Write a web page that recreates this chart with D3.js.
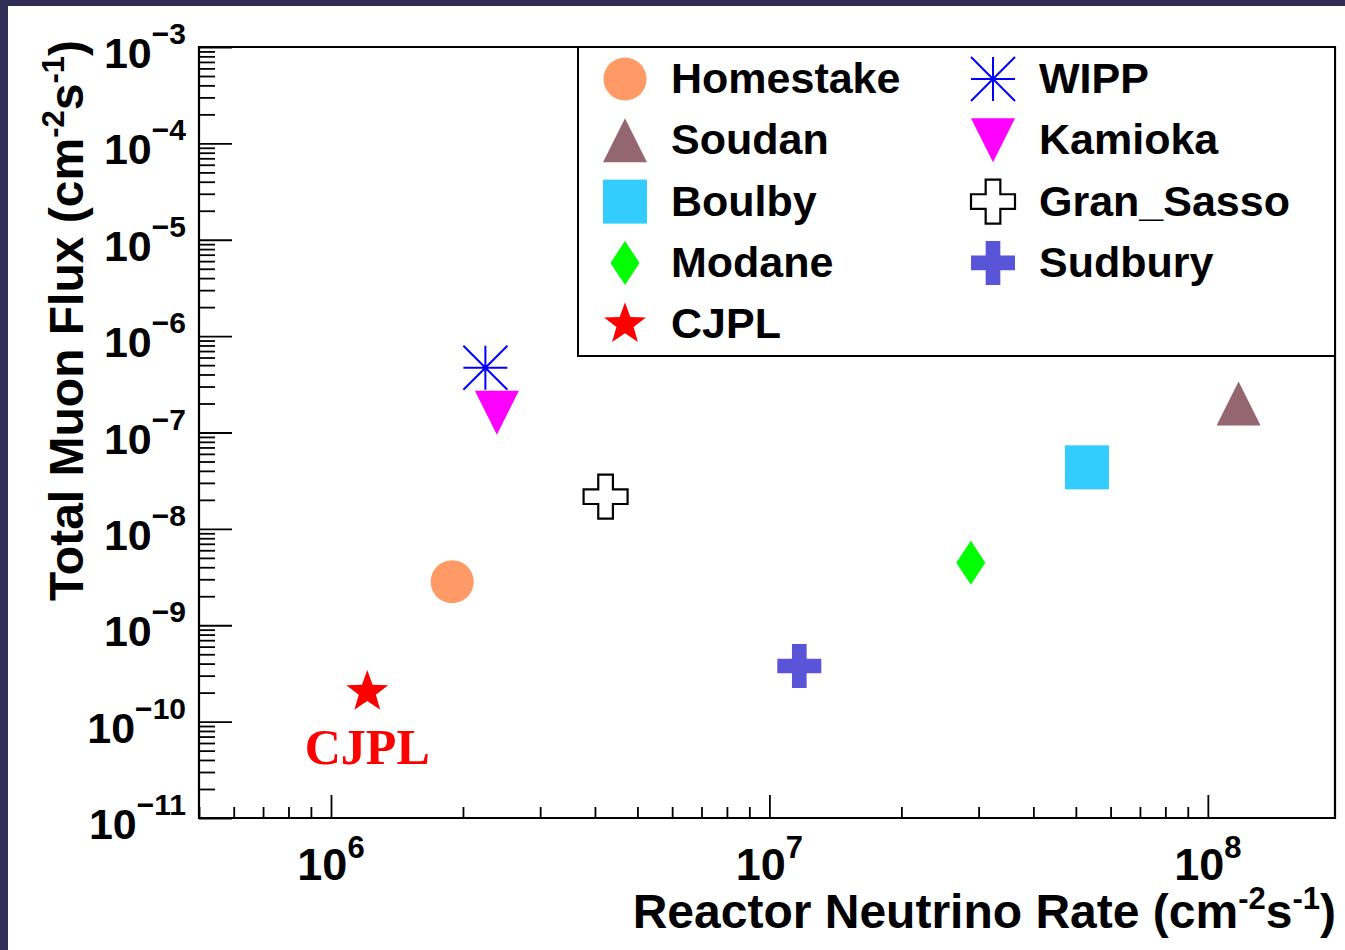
<!DOCTYPE html>
<html>
<head>
<meta charset="utf-8">
<script src="https://cdn.jsdelivr.net/npm/d3@7"></script>
<style>
  html, body { margin: 0; padding: 0; background: #312d55; }
  svg { display: block; }
  text { font-family: "Liberation Sans", Arial, Helvetica, sans-serif; font-weight: bold; fill: #000; }
</style>
</head>
<body>
<svg id="chart" width="1345" height="950"></svg>
<script>
// underground labs: reactor neutrino rate vs total muon flux
const labs = ["Homestake", "Soudan", "Boulby", "Modane", "CJPL", "WIPP", "Kamioka", "Gran_Sasso", "Sudbury"];
const reactorRate = [1.89e6, 1.175e8, 5.3e7, 2.88e7, 1.21e6, 2.25e6, 2.39e6, 4.23e6, 1.17e7];
const muonFlux = [2.83e-9, 2.0e-7, 4.35e-8, 4.46e-9, 2.03e-10, 4.7e-7, 1.6e-7, 2.16e-8, 3.78e-10];

// tick labels (exponents of the decades)
const xDecades = [6, 7, 8];
const yDecades = [-3, -4, -5, -6, -7, -8, -9, -10, -11];

// marker styles by lab
const markerColor = {
    Homestake: "#ff9966", Soudan: "#946670", Boulby: "#33ccff", Modane: "#00ff00", CJPL: "#ff0000",
    WIPP: "#0000ff", Kamioka: "#ff00ff", Gran_Sasso: "#000000", Sudbury: "#5954d8"
};
const markerShape = {
    Homestake: "circle", Soudan: "triUp", Boulby: "square", Modane: "diamond", CJPL: "star",
    WIPP: "asterisk", Kamioka: "triDown", Gran_Sasso: "openCross", Sudbury: "cross"
};

const svg = d3.select("#chart"),
    frame = { left: 199, top: 47, right: 1335, bottom: 818 };

// white page (dark strip left/top is the surrounding slide)
svg.append("rect").attr("x", 8).attr("y", 6).attr("width", 1345 - 8).attr("height", 950 - 6).attr("fill", "#fff");

const x = d3.scaleLog().domain([5e5, 1.95e8]).range([frame.left, frame.right]);
const y = d3.scaleLog().domain([1e-11, 1e-3]).range([frame.bottom, frame.top]);

// minor ticks 2..9 in every decade inside the domain
function minorTicks(scale) {
    const [a, b] = scale.domain();
    const out = [];
    for (let e = Math.floor(Math.log10(a)); e <= Math.ceil(Math.log10(b)); e++) {
        for (let k = 2; k <= 9; k++) {
            const v = k * Math.pow(10, e);
            if (v >= a && v <= b) out.push(v);
        }
    }
    return out;
}

// X ticks (pointing up into the frame)
svg.append("g")
    .attr("transform", `translate(0,${frame.bottom})`)
    .call(d3.axisBottom(x).tickValues(minorTicks(x)).tickSize(-11).tickFormat(""))
    .call(g => g.select(".domain").remove());
svg.append("g")
    .attr("transform", `translate(0,${frame.bottom})`)
    .call(d3.axisBottom(x).tickValues(xDecades.map(e => Math.pow(10, e))).tickSize(-23).tickFormat(""))
    .call(g => g.select(".domain").remove());

// Y ticks (pointing right into the frame)
svg.append("g")
    .attr("transform", `translate(${frame.left},0)`)
    .call(d3.axisLeft(y).tickValues(minorTicks(y)).tickSize(-16).tickFormat(""))
    .call(g => g.select(".domain").remove());
svg.append("g")
    .attr("transform", `translate(${frame.left},0)`)
    .call(d3.axisLeft(y).tickValues(yDecades.map(e => Math.pow(10, e))).tickSize(-33).tickFormat(""))
    .call(g => g.select(".domain").remove());

svg.selectAll(".tick line").attr("stroke", "#000").attr("stroke-width", 1.8);

// frame
svg.append("path")
    .attr("d", `M${frame.left},${frame.top}H${frame.right}V${frame.bottom}H${frame.left}Z`)
    .attr("fill", "none").attr("stroke", "#000").attr("stroke-width", 2.2);

// tick labels 10^n
const xl = svg.selectAll(".xlab").data(xDecades).enter().append("text")
    .attr("class", "xlab")
    .attr("x", d => x(Math.pow(10, d)))
    .attr("y", 880)
    .attr("text-anchor", "middle")
    .style("font-size", "45px");
xl.append("tspan").text("10");
xl.append("tspan").attr("dy", -22).style("font-size", "31px").text(d => d);

const yl = svg.selectAll(".ylab").data(yDecades).enter().append("text")
    .attr("class", "ylab")
    .attr("x", 186)
    .attr("y", d => y(Math.pow(10, d)) + 21)
    .attr("text-anchor", "end")
    .style("font-size", "43px");
yl.append("tspan").text("10");
yl.append("tspan").attr("dy", -24).style("font-size", "30px").text(d => "\u2212" + Math.abs(d));

// axis titles
const xt = svg.append("text")
    .attr("x", 1336).attr("y", 928)
    .attr("text-anchor", "end")
    .style("font-size", "48px");
xt.append("tspan").text("Reactor Neutrino Rate (cm");
xt.append("tspan").attr("dy", -19).style("font-size", "31px").text("-2");
xt.append("tspan").attr("dy", 19).text("s");
xt.append("tspan").attr("dy", -19).style("font-size", "31px").text("-1");
xt.append("tspan").attr("dy", 19).text(")");

const yt = svg.append("text")
    .attr("transform", "translate(83,40) rotate(-90)")
    .attr("text-anchor", "end")
    .style("font-size", "48px");
yt.append("tspan").text("Total Muon Flux (cm");
yt.append("tspan").attr("dy", -19).style("font-size", "31px").text("-2");
yt.append("tspan").attr("dy", 19).text("s");
yt.append("tspan").attr("dy", -19).style("font-size", "31px").text("-1");
yt.append("tspan").attr("dy", 19).text(")");

// marker drawing
function drawMarker(g, shape, color) {
    const s = 44, h = s / 2;
    if (shape === "circle") {
        g.append("circle").attr("r", 21.5).attr("fill", color);
    } else if (shape === "square") {
        g.append("rect").attr("x", -h).attr("y", -h).attr("width", s).attr("height", s).attr("fill", color);
    } else if (shape === "triUp") {
        g.append("path").attr("d", `M0,${-h}L${h},${h}L${-h},${h}Z`).attr("fill", color);
    } else if (shape === "triDown") {
        g.append("path").attr("d", `M0,${h}L${h},${-h}L${-h},${-h}Z`).attr("fill", color);
    } else if (shape === "diamond") {
        g.append("path").attr("d", `M0,${-h}L${h * 0.66},0L0,${h}L${-h * 0.66},0Z`).attr("fill", color);
    } else if (shape === "star") {
        const R = 22, r = 9, pts = [];
        for (let i = 0; i < 10; i++) {
            const a = -Math.PI / 2 + i * Math.PI / 5, rr = i % 2 ? r : R;
            pts.push([rr * Math.cos(a), rr * Math.sin(a)]);
        }
        g.append("path").attr("d", "M" + pts.join("L") + "Z").attr("fill", color);
    } else if (shape === "asterisk") {
        g.append("path")
            .attr("d", `M${-h},0H${h}M0,${-h}V${h}M${-h},${-h}L${h},${h}M${-h},${h}L${h},${-h}`)
            .attr("stroke", color).attr("stroke-width", 2).attr("fill", "none");
    } else if (shape === "cross" || shape === "openCross") {
        const a = s / 6;
        const d = `M${-a},${-h}H${a}V${-a}H${h}V${a}H${a}V${h}H${-a}V${a}H${-h}V${-a}H${-a}Z`;
        if (shape === "cross") {
            g.append("path").attr("d", d).attr("fill", color);
        } else {
            g.append("path").attr("d", d).attr("fill", "#fff").attr("stroke", color).attr("stroke-width", 2.2);
        }
    }
}

// data points
labs.forEach((name, i) => {
    const g = svg.append("g").attr("transform", `translate(${x(reactorRate[i])},${y(muonFlux[i])})`);
    drawMarker(g, markerShape[name], markerColor[name]);
});

// annotation under the CJPL star
const cj = labs.indexOf("CJPL");
svg.append("text")
    .attr("x", x(reactorRate[cj]))
    .attr("y", y(muonFlux[cj]) + 72)
    .attr("text-anchor", "middle")
    .style("font-family", "'Liberation Serif', 'DejaVu Serif', serif")
    .style("font-size", "50px")
    .style("fill", "#ff0000")
    .text("CJPL");

// legend
const legend = svg.append("g");
legend.append("rect")
    .attr("x", 578).attr("y", 47).attr("width", 1335 - 578).attr("height", 356 - 47)
    .attr("fill", "#fff").attr("stroke", "#000").attr("stroke-width", 2);

labs.forEach((name, i) => {
    const col = i < 5 ? 0 : 1, row = i < 5 ? i : i - 5;
    const cx = col === 0 ? 625 : 993, cy = 79 + row * 61.3;
    const g = legend.append("g").attr("transform", `translate(${cx},${cy})`);
    drawMarker(g, markerShape[name], markerColor[name]);
    legend.append("text")
        .attr("x", cx + 46).attr("y", cy + 14)
        .style("font-size", "43px")
        .text(name);
});
</script>
</body>
</html>
